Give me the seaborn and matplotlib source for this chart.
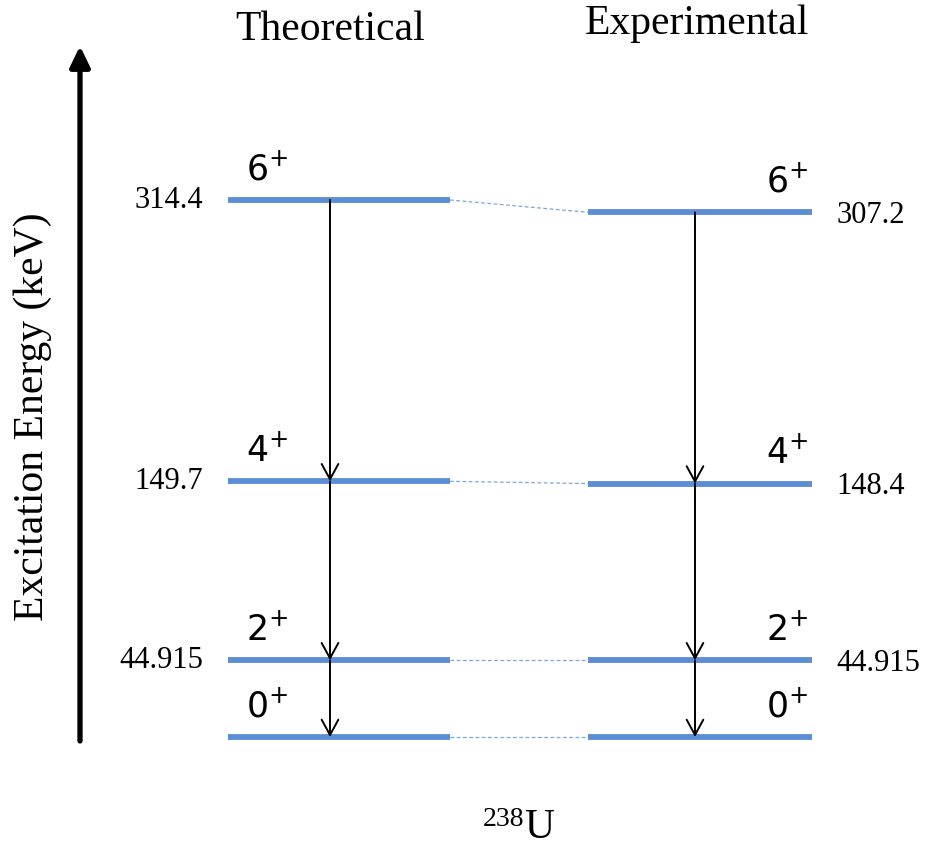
import matplotlib
matplotlib.use("Agg")
import matplotlib.pyplot as plt
import seaborn as sns
import pandas as pd

# ---- data ----
spins = ["0", "2", "4", "6"]
theo_energy = [0.0, 44.915, 149.7, 314.4]
exp_energy = [0.0, 44.915, 148.4, 307.2]
theo_labels = ["", "44.915", "149.7", "314.4"]
exp_labels = ["", "44.915", "148.4", "307.2"]
column_titles = ["Theoretical", "Experimental"]
y_title = "Excitation Energy (keV)"
nucleus_mass = "238"
nucleus_symbol = "U"

sns.set_theme(style="white")
plt.rcParams["font.family"] = ["Liberation Serif", "DejaVu Serif"]
plt.rcParams["mathtext.fontset"] = "dejavusans"
plt.rcParams["text.color"] = "black"

W, H = 925, 848
K = 1.708          # pixels per keV
Y0 = 737           # pixel row of the ground state


def ey(py):
    """pixel row -> energy coordinate"""
    return (Y0 - py) / K


def dp(pix):
    """pixel offset -> energy offset"""
    return pix / K


fig = plt.figure(figsize=(W / 100, H / 100), dpi=100)
ax = fig.add_axes([0, 0, 1, 1])

bar_color = "#5B8ED6"
TX0, TX1 = 228, 450
EX0, EX1 = 588, 812
TARR, EARR = 330, 695

# ---- level bars via seaborn ----
rows = []
for i, e in enumerate(theo_energy):
    rows += [dict(x=TX0, E=e, uid=f"t{i}"), dict(x=TX1, E=e, uid=f"t{i}")]
for i, e in enumerate(exp_energy):
    rows += [dict(x=EX0, E=e, uid=f"e{i}"), dict(x=EX1, E=e, uid=f"e{i}")]
df = pd.DataFrame(rows)
sns.lineplot(data=df, x="x", y="E", units="uid", estimator=None, color=bar_color,
             lw=4.2, solid_capstyle="butt", ax=ax, sort=False)
ax.set_xlim(0, W)
ax.set_ylim(ey(H), ey(0))
ax.axis("off")

# ---- dashed connectors ----
for et, ee in zip(theo_energy, exp_energy):
    ax.plot([TX1, EX0], [et, ee], color="#7FA6D8", lw=0.9, ls=(0, (3, 2)))

# ---- transition arrows ----
astyle = dict(arrowstyle="->,head_length=0.55,head_width=0.3", color="black",
              lw=1.4, shrinkA=0, shrinkB=0, mutation_scale=20)
for energies, xa in ((theo_energy, TARR), (exp_energy, EARR)):
    for hi, lo in zip(energies[1:][::-1], energies[:-1][::-1]):
        ax.annotate("", xy=(xa, lo), xytext=(xa, hi), arrowprops=astyle)

# ---- spin labels ----
for s, e in zip(spins, theo_energy):
    ax.text(246, e + dp(12), f"${s}^{{+}}$", fontsize=25, ha="left", va="bottom",
            color="black")
for s, e in zip(spins, exp_energy):
    ax.text(808, e + dp(12), f"${s}^{{+}}$", fontsize=25, ha="right", va="bottom",
            color="black")

# ---- energy values ----
for lab, e in zip(theo_labels, theo_energy):
    if lab:
        ax.text(203, e, lab, fontsize=22, ha="right", va="center")
for lab, e in zip(exp_labels, exp_energy):
    if lab:
        ax.text(836, e - dp(3), lab, fontsize=22, ha="left", va="center")

# ---- titles ----
ax.text(330, ey(40), column_titles[0], fontsize=30, ha="center", va="baseline")
ax.text(697, ey(34), column_titles[1], fontsize=30, ha="center", va="baseline")

# ---- energy axis arrow ----
ax.annotate("", xy=(80, ey(46)), xytext=(80, ey(741)),
            arrowprops=dict(arrowstyle="-|>,head_length=0.62,head_width=0.3",
                            color="black", lw=3.8, shrinkA=0, shrinkB=0,
                            mutation_scale=20))
ax.text(33, ey(417), y_title, fontsize=30, rotation=90, ha="center", va="center")

# ---- nucleus label ----
ax.text(524, ey(826), nucleus_mass, fontsize=20, ha="right", va="baseline")
ax.text(524, ey(838), nucleus_symbol, fontsize=30, ha="left", va="baseline")

fig.savefig("out.png", dpi=100, facecolor="white")
